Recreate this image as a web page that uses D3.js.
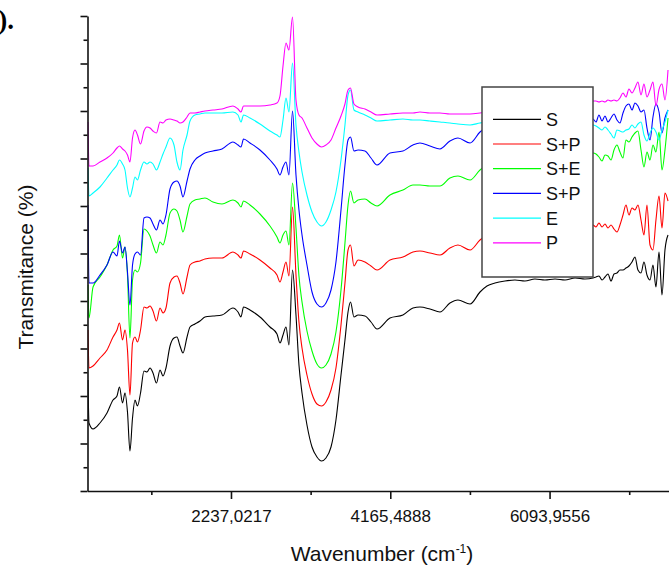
<!DOCTYPE html>
<html>
<head>
<meta charset="utf-8">
<script src="https://cdn.jsdelivr.net/npm/d3@7"></script>
<style>
  body { margin: 0; background: #fff; }
  svg { display: block; }
</style>
</head>
<body>
<svg id="ftir" width="669" height="566"></svg>
<script>
// shared wavenumber grid (cm-1)
const wavenumber = [506, 518, 567, 651, 736, 809, 857, 887, 924, 954,
  984, 1014, 1045, 1075, 1105, 1142, 1184, 1220, 1257, 1293,
  1335, 1378, 1414, 1450, 1499, 1547, 1583, 1620, 1656, 1705,
  1741, 1801, 1862, 1922, 2019, 2128, 2261, 2322, 2358, 2389,
  2467, 2588, 2709, 2794, 2830, 2867, 2903, 2939, 2982, 3024,
  3060, 3097, 3157, 3218, 3278, 3333, 3387, 3448, 3508, 3569,
  3617, 3654, 3684, 3726, 3775, 3859, 3932, 4005, 4162, 4319,
  4440, 4525, 4646, 4767, 4888, 4985, 5131, 5252, 5336, 5433,
  5554, 5675, 5796, 5917, 6038, 6160, 6281, 6402, 6523, 6620,
  6656, 6692, 6729, 6765, 6801, 6838, 6874, 6910, 6946, 6983,
  7019, 7055, 7092, 7128, 7164, 7201, 7237, 7273, 7310, 7346,
  7382, 7419, 7455, 7491, 7528];

// transmittance of each sample, same order as wavenumber
const S = [22.2, 13.6, 12.4, 13.6, 15.6, 18.2, 19.0, 20.8, 17.6, 19.6,
  15.8, 8.0, 14.6, 18.2, 17.0, 19.6, 24.0, 23.8, 24.6, 23.6,
  21.6, 24.2, 23.0, 24.6, 29.0, 30.6, 30.8, 29.0, 27.6, 30.8,
  32.8, 33.4, 34.0, 34.8, 35.0, 35.2, 36.6, 35.8, 34.8, 36.8,
  36.2, 34.8, 32.8, 31.4, 29.6, 31.2, 32.8, 29.2, 44.2, 35.2,
  25.2, 19.6, 13.2, 8.8, 6.8, 6.0, 6.6, 8.8, 14.2, 23.2,
  30.2, 35.8, 37.8, 34.8, 35.2, 35.0, 33.8, 32.4, 34.6, 35.2,
  36.6, 36.8, 36.4, 35.8, 37.6, 38.2, 37.4, 39.8, 41.0, 41.6,
  42.0, 42.2, 42.0, 42.4, 42.2, 42.4, 42.2, 42.6, 42.4, 42.6,
  42.8, 43.0, 42.2, 42.8, 43.4, 42.0, 43.4, 43.6, 44.2, 44.2,
  44.6, 45.0, 45.8, 46.8, 44.2, 43.6, 45.8, 43.2, 42.2, 45.2,
  40.8, 47.8, 39.2, 48.2, 51.2];

const SP = [32.2, 24.6, 25.0, 26.6, 28.2, 30.8, 32.2, 33.6, 30.2, 32.2,
  28.2, 19.2, 29.6, 30.8, 29.8, 32.2, 36.8, 36.6, 37.0, 36.0,
  34.0, 36.6, 35.6, 36.6, 41.6, 42.8, 43.0, 41.6, 39.4, 42.8,
  45.2, 45.8, 46.0, 46.4, 46.6, 46.6, 47.8, 47.2, 46.6, 48.0,
  47.4, 46.2, 44.6, 43.2, 41.8, 43.8, 45.8, 43.0, 56.8, 43.2,
  33.8, 28.6, 23.2, 19.4, 17.4, 17.0, 17.8, 20.2, 24.6, 33.2,
  41.6, 48.2, 49.2, 45.0, 46.2, 45.8, 45.0, 44.2, 46.2, 46.8,
  47.8, 48.0, 47.6, 47.2, 48.6, 49.2, 48.2, 50.2, 51.2, 51.8,
  52.2, 52.4, 52.6, 52.6, 52.8, 52.8, 53.0, 53.0, 53.2, 53.2,
  52.8, 53.6, 52.8, 53.4, 52.6, 53.2, 52.4, 51.8, 53.2, 55.2,
  57.2, 55.2, 56.6, 56.2, 57.2, 54.2, 51.2, 57.2, 49.2, 48.2,
  54.2, 59.0, 52.6, 59.6, 58.0];

const SE = [41.2, 34.6, 40.8, 42.8, 45.2, 48.2, 49.0, 51.2, 46.6, 48.8,
  43.2, 30.6, 42.2, 44.2, 43.8, 45.6, 52.4, 52.0, 51.0, 49.2,
  47.6, 49.8, 49.2, 51.2, 55.6, 56.4, 56.0, 54.2, 51.8, 55.0,
  57.4, 58.2, 58.4, 58.6, 57.8, 57.4, 58.2, 57.6, 56.8, 58.0,
  57.2, 55.4, 53.0, 50.8, 49.6, 51.2, 52.0, 49.2, 61.6, 52.6,
  43.0, 37.8, 32.0, 28.0, 25.4, 24.6, 25.2, 27.4, 31.8, 40.2,
  49.6, 57.2, 60.0, 57.6, 58.2, 58.4, 57.6, 57.0, 59.2, 60.2,
  61.2, 61.2, 61.0, 61.0, 62.6, 63.0, 62.2, 64.2, 65.2, 65.6,
  66.0, 66.2, 66.4, 66.6, 66.8, 66.8, 67.0, 67.2, 67.4, 67.6,
  67.4, 66.8, 66.0, 67.2, 67.0, 66.2, 68.2, 69.2, 67.8, 66.6,
  70.2, 69.8, 70.8, 71.6, 72.0, 68.2, 64.8, 67.8, 66.2, 69.2,
  67.8, 71.8, 64.2, 68.2, 74.6];

const SP2 = [57.2, 41.6, 41.6, 43.2, 45.2, 47.8, 47.0, 50.0, 47.6, 48.8,
  43.8, 37.2, 45.2, 47.4, 47.8, 47.2, 54.6, 54.8, 54.6, 53.4,
  52.2, 54.2, 53.4, 55.2, 60.4, 61.8, 62.0, 61.0, 58.8, 62.0,
  64.4, 66.2, 67.0, 67.6, 68.0, 68.4, 69.8, 69.2, 68.8, 70.4,
  69.6, 68.2, 66.2, 64.4, 63.2, 64.8, 65.8, 63.2, 76.0, 63.2,
  56.2, 51.2, 45.2, 39.8, 37.4, 36.8, 37.6, 40.2, 45.8, 56.2,
  65.2, 70.2, 70.8, 68.0, 68.2, 68.0, 66.6, 65.2, 67.6, 68.0,
  69.2, 69.6, 69.0, 68.4, 70.0, 70.6, 69.6, 71.8, 72.8, 73.2,
  73.4, 73.6, 73.8, 73.8, 74.0, 74.0, 74.2, 74.2, 74.4, 74.4,
  73.8, 75.2, 74.0, 75.0, 73.8, 74.6, 75.4, 74.2, 73.6, 75.6,
  77.0, 77.4, 76.2, 77.6, 77.0, 75.8, 76.2, 72.6, 70.2, 74.8,
  77.4, 75.8, 71.6, 74.6, 76.2];

const E = [64.6, 59.0, 59.6, 60.8, 62.6, 64.2, 65.2, 66.2, 65.4, 64.2,
  60.6, 58.8, 60.6, 62.8, 62.2, 64.2, 65.8, 65.4, 65.8, 65.4,
  64.2, 65.8, 67.4, 68.8, 70.6, 69.2, 65.8, 64.2, 68.2, 71.2,
  74.0, 75.2, 75.4, 75.6, 75.6, 75.6, 75.8, 75.2, 73.8, 75.2,
  74.6, 73.4, 72.0, 71.2, 70.8, 74.2, 78.6, 75.8, 85.6, 73.2,
  67.8, 63.8, 59.2, 55.8, 53.8, 53.0, 53.8, 56.2, 59.8, 66.2,
  73.2, 79.2, 80.2, 76.2, 75.8, 75.2, 74.6, 74.0, 74.2, 74.4,
  74.2, 74.2, 74.0, 73.8, 73.6, 73.4, 73.2, 73.6, 73.8, 73.6,
  73.6, 73.4, 73.4, 73.4, 73.4, 73.2, 73.2, 73.2, 73.2, 73.2,
  73.0, 72.6, 72.2, 72.8, 72.2, 71.4, 70.6, 72.2, 72.0, 71.8,
  72.2, 72.4, 73.2, 72.6, 73.4, 73.8, 71.2, 70.0, 71.6, 72.6,
  71.8, 70.2, 72.2, 73.8, 76.2];

const P = [73.8, 65.0, 65.0, 65.8, 66.6, 67.6, 68.6, 69.0, 68.4, 68.0,
  67.2, 65.8, 70.6, 72.2, 71.2, 69.4, 72.0, 72.8, 72.6, 72.0,
  71.6, 73.8, 73.6, 74.2, 74.4, 74.2, 74.0, 73.6, 73.8, 74.8,
  75.6, 75.6, 75.8, 76.0, 76.2, 76.4, 77.0, 76.4, 75.8, 77.0,
  77.0, 77.0, 77.2, 77.6, 79.0, 85.0, 89.6, 88.2, 94.8, 78.2,
  75.2, 74.6, 72.6, 70.6, 69.4, 68.8, 69.2, 70.2, 72.6, 75.0,
  77.4, 80.2, 80.6, 77.4, 76.8, 76.4, 75.8, 75.2, 75.4, 75.6,
  75.6, 75.8, 75.6, 75.6, 75.4, 75.4, 75.4, 75.6, 75.8, 76.0,
  76.2, 76.4, 76.6, 76.8, 77.0, 77.2, 77.4, 77.6, 77.8, 78.0,
  78.0, 77.8, 78.0, 77.8, 78.2, 78.0, 78.2, 78.0, 78.6, 79.6,
  78.8, 80.4, 79.6, 80.6, 81.8, 79.2, 81.4, 78.8, 80.2, 81.8,
  77.0, 80.3, 81.4, 78.2, 84.2];

const seriesNames = ["S", "S+P", "S+E", "S+P", "E", "P"];
const seriesColors = ["#000000", "#ff0000", "#00ff00", "#0000ff", "#00ffff", "#ff00ff"];
const seriesValues = [S, SP, SE, SP2, E, P];

const xMajorTicks = [2237.0217, 4165.4888, 6093.9556];
const xTickLabels = ["2237,0217", "4165,4888", "6093,9556"];
const xMinorTicks = [1272.7882, 3201.2553, 5129.7222, 7058.189];
const yMajorTicks = [0, 9.5, 19, 28.5, 38, 47.5, 57, 66.5, 76, 85.5, 95];
const yMinorTicks = [4.75, 14.25, 23.75, 33.25, 42.75, 52.25, 61.75, 71.25, 80.75, 90.25];

function drawSpectra() {
  const svg = d3.select("#ftir");
  const font = "'Liberation Sans', Arial, sans-serif";

  const x = d3.scaleLinear().domain([500, 7552]).range([87.5, 670]);
  const y = d3.scaleLinear().domain([0, 95]).range([491, 16]);

  svg.append("defs").append("clipPath").attr("id", "plot-clip")
    .append("rect")
    .attr("x", x(500)).attr("y", 0)
    .attr("width", 670 - x(500)).attr("height", y(0));

  // spectra
  const line = d3.line()
    .curve(d3.curveMonotoneX)
    .x((d, i) => x(wavenumber[i]))
    .y((d) => y(d));

  svg.append("g")
    .attr("clip-path", "url(#plot-clip)")
    .selectAll("path")
    .data(seriesValues)
    .enter()
    .append("path")
    .attr("d", (d) => line(d))
    .attr("fill", "none")
    .attr("stroke", (d, i) => seriesColors[i])
    .attr("stroke-width", 1.1)
    .attr("stroke-linejoin", "round");

  // X axis, labelled ticks and minor ticks
  const xAxis = svg.append("g")
    .attr("transform", `translate(0,${y(0)})`)
    .call(d3.axisBottom(x)
      .tickValues(xMajorTicks)
      .tickSize(8)
      .tickSizeOuter(0)
      .tickFormat((d, i) => xTickLabels[i]));
  xAxis.select(".domain").attr("stroke", "#111").attr("stroke-width", 1.6);
  xAxis.selectAll(".tick line").attr("stroke", "#111").attr("stroke-width", 1.6);
  xAxis.selectAll(".tick text")
    .attr("y", 19)
    .attr("fill", "#111")
    .style("font-family", font)
    .style("font-size", "17px");

  const xMinor = svg.append("g")
    .attr("transform", `translate(0,${y(0)})`)
    .call(d3.axisBottom(x).tickValues(xMinorTicks).tickSize(4).tickFormat(""));
  xMinor.select(".domain").remove();
  xMinor.selectAll(".tick line").attr("stroke", "#111").attr("stroke-width", 1.6);

  // Y axis, no labels
  const yAxis = svg.append("g")
    .attr("transform", `translate(${x(500)},0)`)
    .call(d3.axisLeft(y).tickValues(yMajorTicks).tickSize(7).tickSizeOuter(0).tickFormat(""));
  yAxis.select(".domain").attr("stroke", "#111").attr("stroke-width", 1.6);
  yAxis.selectAll(".tick line").attr("stroke", "#111").attr("stroke-width", 1.6);

  const yMinor = svg.append("g")
    .attr("transform", `translate(${x(500)},0)`)
    .call(d3.axisLeft(y).tickValues(yMinorTicks).tickSize(4).tickFormat(""));
  yMinor.select(".domain").remove();
  yMinor.selectAll(".tick line").attr("stroke", "#111").attr("stroke-width", 1.6);

  // axis titles
  const xTitle = svg.append("text")
    .attr("x", 382)
    .attr("y", 561)
    .attr("text-anchor", "middle")
    .style("font-family", font)
    .style("font-size", "21px")
    .attr("fill", "#111");
  xTitle.append("tspan").text("Wavenumber (cm");
  xTitle.append("tspan").attr("dy", -8).style("font-size", "12px").text("-1");
  xTitle.append("tspan").attr("dy", 8).text(")");

  svg.append("text")
    .attr("transform", "translate(33,267) rotate(-90)")
    .attr("text-anchor", "middle")
    .style("font-family", font)
    .style("font-size", "21px")
    .attr("fill", "#111")
    .text("Transmitance (%)");

  // panel letter, cut at the left edge as in the source figure
  svg.append("text")
    .attr("x", 14)
    .attr("y", 29)
    .attr("text-anchor", "end")
    .style("font-family", "'Liberation Serif', 'Times New Roman', serif")
    .style("font-weight", "bold")
    .style("font-size", "27px")
    .text("b).");

  // legend
  const legend = svg.append("g").attr("transform", "translate(482,87)");
  legend.append("rect")
    .attr("width", 111)
    .attr("height", 190)
    .attr("fill", "#fff")
    .attr("stroke", "#444")
    .attr("stroke-width", 1.5);

  const rows = legend.selectAll("g.row")
    .data(seriesNames)
    .enter()
    .append("g")
    .attr("class", "row")
    .attr("transform", (d, i) => `translate(0,${32.3 + i * 24.7})`);
  rows.append("line")
    .attr("x1", 11).attr("x2", 59)
    .attr("stroke", (d, i) => seriesColors[i])
    .attr("stroke-width", 1.2);
  rows.append("text")
    .attr("x", 64)
    .attr("y", 6.5)
    .style("font-family", font)
    .style("font-size", "18px")
    .attr("fill", "#111")
    .text((d) => d);
}

drawSpectra();
</script>
</body>
</html>
